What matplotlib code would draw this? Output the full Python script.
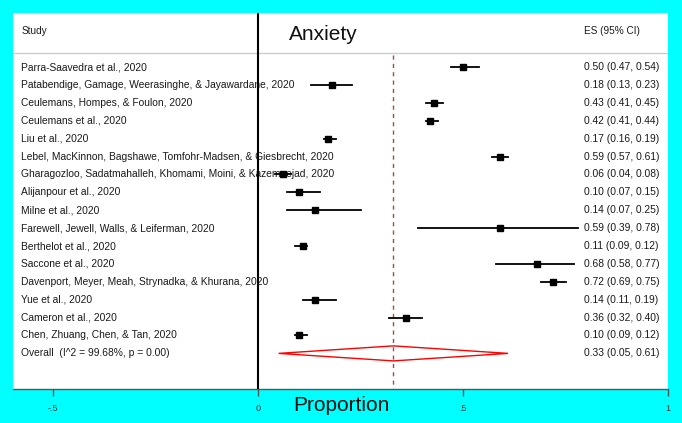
import matplotlib.pyplot as plt
from matplotlib.patches import Polygon

plt.rcParams['font.family'] = ['Liberation Sans', 'DejaVu Sans']

studies = [
    "Parra-Saavedra et al., 2020",
    "Patabendige, Gamage, Weerasinghe, & Jayawardane, 2020",
    "Ceulemans, Hompes, & Foulon, 2020",
    "Ceulemans et al., 2020",
    "Liu et al., 2020",
    "Lebel, MacKinnon, Bagshawe, Tomfohr-Madsen, & Giesbrecht, 2020",
    "Gharagozloo, Sadatmahalleh, Khomami, Moini, & Kazemnejad, 2020",
    "Alijanpour et al., 2020",
    "Milne et al., 2020",
    "Farewell, Jewell, Walls, & Leiferman, 2020",
    "Berthelot et al., 2020",
    "Saccone et al., 2020",
    "Davenport, Meyer, Meah, Strynadka, & Khurana, 2020",
    "Yue et al., 2020",
    "Cameron et al., 2020",
    "Chen, Zhuang, Chen, & Tan, 2020",
]
es = [0.50, 0.18, 0.43, 0.42, 0.17, 0.59, 0.06, 0.10, 0.14, 0.59, 0.11, 0.68, 0.72, 0.14, 0.36, 0.10]
lo = [0.47, 0.13, 0.41, 0.41, 0.16, 0.57, 0.04, 0.07, 0.07, 0.39, 0.09, 0.58, 0.69, 0.11, 0.32, 0.09]
hi = [0.54, 0.23, 0.45, 0.44, 0.19, 0.61, 0.08, 0.15, 0.25, 0.78, 0.12, 0.77, 0.75, 0.19, 0.40, 0.12]

overall_label = "Overall  (I^2 = 99.68%, p = 0.00)"
overall_es, overall_lo, overall_hi = 0.33, 0.05, 0.61

xticks = [-0.5, 0, 0.5, 1]
xticklabels = ["-.5", "0", ".5", "1"]

fig = plt.figure(figsize=(6.82, 4.23), dpi=100, facecolor='#00ffff')
ax = fig.add_axes([13 / 682, 1 - 389 / 423, 655 / 682, 376 / 423])
ax.set_facecolor('white')
ax.set_xlim(-0.598, 1.0)
ax.set_ylim(17.99, -3.02)

for s in ['top', 'left', 'right']:
    ax.spines[s].set_visible(False)
ax.spines['bottom'].set_color('#555555')
ax.spines['bottom'].set_linewidth(1)
ax.set_yticks([])
ax.set_xticks(xticks)
ax.set_xticklabels(xticklabels, fontsize=6.5, color='#333333')
ax.tick_params(axis='x', length=5, width=1, color='#555555', pad=6)

txt = '#1a1a1a'

# header
ax.axhline(-0.78, color='#cccccc', lw=1)
ax.text(-0.578, -2.0, "Study", fontsize=7.2, va='center', color=txt)
ax.text(0.795, -2.0, "ES (95% CI)", fontsize=7.2, va='center', color=txt)
ax.text(0.16, -1.84, "Anxiety", fontsize=15, va='center', ha='center', color='#111111')

# reference lines
ax.axvline(0, color='black', lw=1.5, zorder=3)
ax.plot([overall_es, overall_es], [-0.7, 17.99], color='#9a5050', lw=1,
        linestyle=(0, (3, 3)), zorder=1)

for i, name in enumerate(studies):
    ax.text(-0.578, i, name, fontsize=7.4, va='center', color=txt, zorder=2)
    ax.text(0.795, i, "%.2f (%.2f, %.2f)" % (es[i], lo[i], hi[i]),
            fontsize=7.4, va='center', color=txt)
    ax.plot([lo[i], hi[i]], [i, i], color='black', lw=1.3, zorder=4)
    ax.plot(es[i], i, marker='s', color='black', markersize=5, zorder=5)

n = len(studies)
ax.text(-0.578, n, overall_label, fontsize=7.4, va='center', color=txt)
ax.text(0.795, n, "%.2f (%.2f, %.2f)" % (overall_es, overall_lo, overall_hi),
        fontsize=7.4, va='center', color=txt)
diamond = Polygon([[overall_lo, n], [overall_es, n - 0.42], [overall_hi, n], [overall_es, n + 0.42]],
                  closed=True, fill=False, edgecolor='red', lw=1, zorder=4)
ax.add_patch(diamond)

fig.text(0.5, 1 - 405 / 423, "Proportion", fontsize=15, ha='center', va='center', color='#111111')

fig.savefig('out.png', dpi=100, facecolor=fig.get_facecolor())
